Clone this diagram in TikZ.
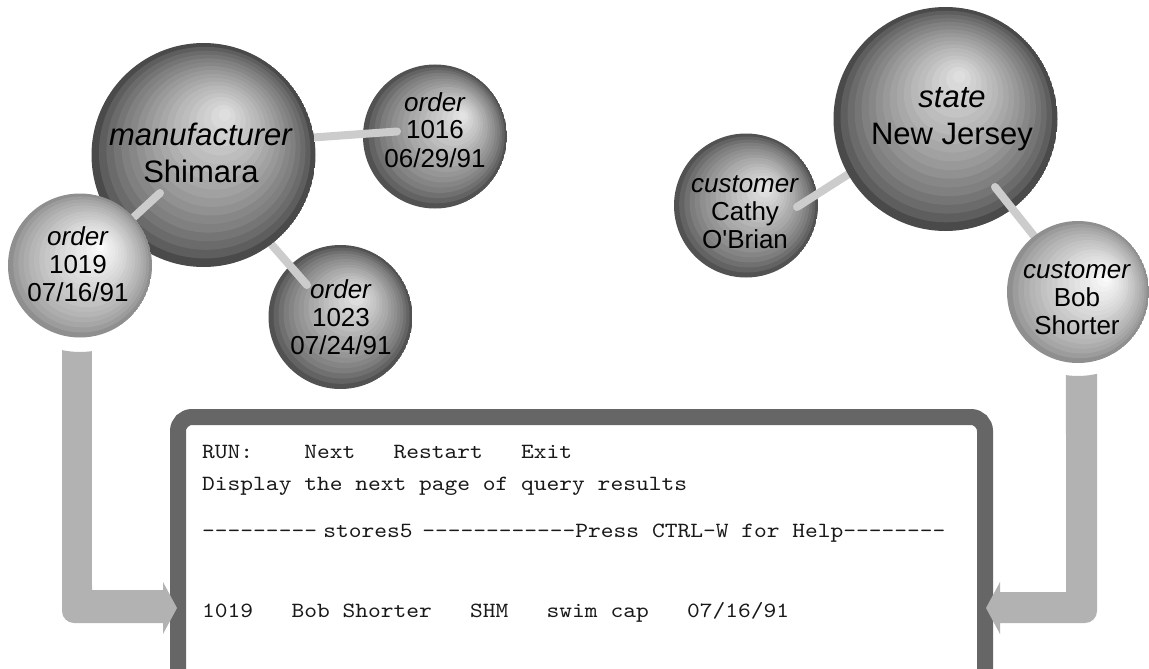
\documentclass[tikz,border=0pt]{standalone}
\usepackage{fontspec}
\setmainfont{Liberation Sans}
\newfontfamily\termfont{lmmono10-regular.otf}[FakeStretch=1.12]

\definecolor{framegray}{gray}{0.40}
\definecolor{flowgray}{gray}{0.70}
\definecolor{linkgray}{gray}{0.80}

\pgfdeclarelayer{bg}
\pgfdeclarelayer{linkA}
\pgfdeclarelayer{mid}
\pgfdeclarelayer{linkB}
\pgfsetlayers{bg,linkA,mid,linkB,main}

% caption lines of a ball, first baseline is the node's base
\newcommand\balltext[1]{\begin{tabular}[t]{@{}c@{}}#1\end{tabular}}
% a run of hyphens that never turns into dashes
\newcommand\dashes[1]{\foreach\dd in {1,...,#1}{-\kern0pt}}
% straight apostrophe, taken as a glyph so it stays straight
\newcommand\sq{\XeTeXglyph\XeTeXglyphindex "quotesingle"\relax}

\tikzset{
  % banded sphere: radius, outer grey %, inner grey %, highlight offset (fractions of radius)
  ball/.style n args={5}{circle, inner sep=0pt, minimum size={2*#1},
    path picture={
      \foreach \i in {0,...,17}{
        \pgfmathsetmacro\fr{\i/18}
        \pgfmathtruncatemacro\lv{#2+(#3-#2)*(\fr^0.7)}
        \fill[white!\lv!black]
          ([shift={({#4*#1*\fr},{#5*#1*\fr})}]path picture bounding box.center)
          circle[radius={#1*(1-\fr)}];
      }}},
  bigball/.style n args={3}{ball={#1}{29}{90}{#2}{#3}},
  darkball/.style n args={3}{ball={#1}{32}{92}{#2}{#3}},
  lightball/.style n args={3}{ball={#1}{56}{100}{#2}{#3}},
  captext/.style={inner sep=0pt, anchor=base, font=\fontsize{26}{28}\selectfont},
  bigcaptext/.style={inner sep=0pt, anchor=base, font=\fontsize{31}{37}\selectfont},
  sphlink/.style={draw=linkgray, line width=8, line cap=round},
  winframe/.style={draw=framegray, line width=16, rounded corners=14},
  flowfill/.style={fill=flowgray},
  termline/.style={inner sep=0pt, anchor=base west, text=black!90,
    font={\termfont\fontsize{21.7}{25}\selectfont}}
}

\begin{document}
\begin{tikzpicture}[x=1pt,y=-1pt]
\useasboundingbox (0,0) rectangle (1149,669);

\begin{pgfonlayer}{bg}
  \fill[white] (0,0) rectangle (1149,669);
  % query window
  \draw[winframe] (178,669) -- (178,417) -- (985,417) -- (985,669);
  % spheres at the back
  \node[darkball={72}{0.40}{-0.30}] (o1016) at (435,136.5) {};
  \node[darkball={72}{0.25}{-0.30}] (o1023) at (340.5,317) {};
  \node[darkball={72}{0.30}{-0.25}] (cathy) at (746,205.5) {};
\end{pgfonlayer}

\begin{pgfonlayer}{mid}
  \node[bigball={112}{0.20}{-0.38}] (m) at (203.5,155) {};
  \node[bigball={112}{0.13}{-0.40}] (state) at (945.5,119) {};
\end{pgfonlayer}

\node[lightball={72}{0.30}{-0.26}] (o1019) at (80,265.5) {};
\node[lightball={71}{0.42}{-0.20}] (bob) at (1078,292) {};

% links between spheres
\begin{pgfonlayer}{linkA}
  \draw[sphlink] ([shift={(46.5,-13)}]m.center) -- ([shift={(-38,-5)}]o1016.center);
  \draw[sphlink] ([shift={(46.5,65)}]m.center) -- ([shift={(-33.5,-32)}]o1023.center);
  \draw[sphlink] ([shift={(-65.5,35)}]state.center) -- ([shift={(51,1.5)}]cathy.center);
\end{pgfonlayer}
\begin{pgfonlayer}{linkB}
  \draw[sphlink] ([shift={(-43.5,38)}]m.center) -- ([shift={(35,-31)}]o1019.center);
  \draw[sphlink] ([shift={(49.5,68)}]state.center) -- ([shift={(-28,-36)}]bob.center);
\end{pgfonlayer}

% flow arrows into the query window
\coordinate (tipL) at (177,608);
\coordinate (tipR) at (986,608);
\begin{pgfonlayer}{bg}
  \fill[flowfill] ([shift={(-17.9,84.6)}]o1019.center)
      arc[start angle=102, end angle=82, radius=86]
      -- (92,590) -- (163,590) -- (163,582) -- (tipL) -- (163,634) -- (163,623)
      -- (74,623) arc[start angle=90, end angle=180, radius=12] -- cycle;
  \fill[flowfill] ([shift={(19,81.8)}]bob.center)
      arc[start angle=76.9, end angle=98.2, radius=84]
      -- (1066,592) -- (1000,592) -- (1000,582) -- (tipR) -- (1000,634) -- (1000,623)
      -- (1085,623) arc[start angle=90, end angle=0, radius=12] -- cycle;
\end{pgfonlayer}

% sphere captions
\node[bigcaptext] (tm) at (201,145) {\balltext{\textit{manufacturer}\\Shimara}};
\node[bigcaptext] (tstate) at (952,107) {\balltext{\textit{state}\\New Jersey}};
\node[captext] (t1016) at (435,111) {\balltext{\textit{order}\\1016\\06/29/91}};
\node[captext] (t1019) at (78,245) {\balltext{\textit{order}\\1019\\07/16/91}};
\node[captext] (t1023) at (341,298) {\balltext{\textit{order}\\1023\\07/24/91}};
\node[captext] (tcathy) at (745,192) {\balltext{\textit{customer}\\Cathy\\O\sq Brian}};
\node[captext] (tbob) at (1077,278) {\balltext{\textit{customer}\\Bob\\Shorter}};

% query window contents
\node[termline] (l1) at (202,458) {RUN:~~~~Next~~~Restart~~~Exit};
\node[termline] (l2) at (202,490) {Display the next page of query results};
\node[termline] (l3) at (202,537) {\dashes{9}\hspace{6.4pt}stores5\hspace{9.6pt}\dashes{12}Press CTRL-W for Help\dashes{8}};
\node[termline] (l4) at (202,617) {1019~~~Bob Shorter~~~SHM~~~swim cap~~~07/16/91};
\end{tikzpicture}
\end{document}
